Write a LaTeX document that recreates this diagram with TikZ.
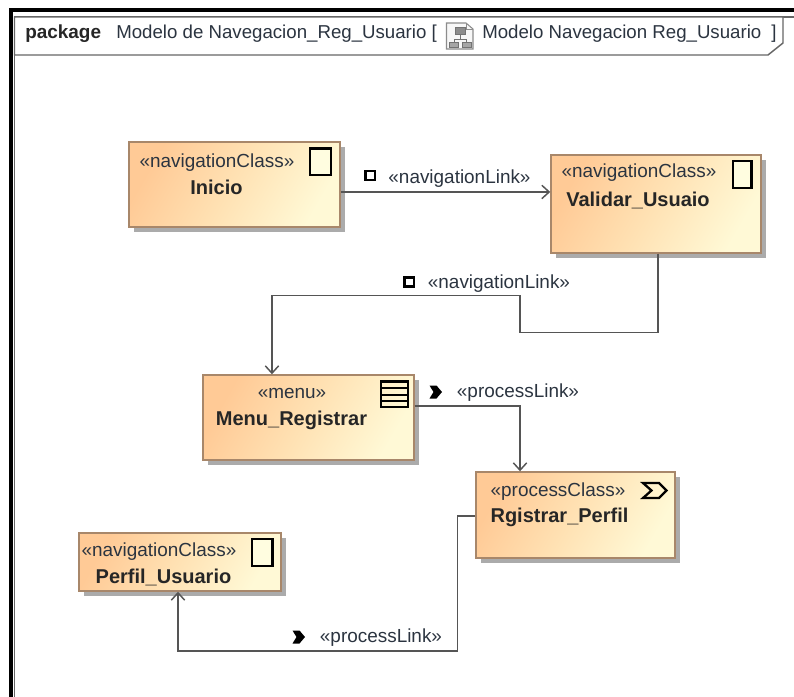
\documentclass[tikz,border=0pt]{standalone}
\usepackage{fontspec}
\setmainfont{Liberation Sans}
\usetikzlibrary{shadows,arrows.meta,calc}
\definecolor{boxedge}{HTML}{A8876A}
\definecolor{txt}{HTML}{2B3440}
\definecolor{wire}{HTML}{555555}
\definecolor{boxa}{HTML}{FFCA96}
\definecolor{boxb}{HTML}{FFF9D6}
\definecolor{boxm}{HTML}{FFE2B4}
\tikzset{
  x=0.75pt,y=-0.75pt,
  umlbox/.style={rectangle,draw=boxedge,line width=1.1pt,top color=boxa,bottom color=boxb,middle color=boxm,shading angle=60,inner sep=0pt,drop shadow={shadow xshift=3.75pt,shadow yshift=-3.75pt,fill=black!33,opacity=1}},
  stereo/.style={font=\fontsize{14.2}{16}\selectfont,text=txt,inner sep=0pt},
  nm/.style={font=\fontsize{15}{16}\selectfont\bfseries,text=black!85,inner sep=0pt},
  lbl/.style={font=\fontsize{14.2}{16}\selectfont,text=txt,inner sep=0pt},
  link/.style={draw=wire,line width=1.1pt,-{Straight Barb[length=5.5pt,width=10pt]}},
  glyph/.style={draw=black,line width=1.7pt,fill=yellow!12!white},
  mark box/.style={draw=black,line width=1.8pt,fill=white},
  chev/.style={fill=black,draw=none},
  frameedge/.style={draw=black!60,line width=1.1pt},
  ttl/.style={font=\fontsize{14}{16}\selectfont,text=txt,inner sep=0pt,anchor=west},
}
\begin{document}
\begin{tikzpicture}
\useasboundingbox (0,0) rectangle (794,697);
% frame
\draw[line width=3pt,black] (11,697) -- (11,9.5) -- (794,9.5);
\draw[frameedge] (14.5,697) -- (14.5,17) -- (794,17);
\draw[frameedge,fill=white] (14.5,17) -- (783,17) -- (783,43) -- (768,55) -- (14.5,55) -- cycle;
\node[ttl,font=\fontsize{14.2}{16}\selectfont\bfseries,text=black!85] (kw) at (25,34) {package};
\node[ttl] (t1) at (116,34) {Modelo de Navegacion\_Reg\_Usuario [};
\node[ttl] (t2) at (482,34) {Modelo Navegacion Reg\_Usuario};
\node[ttl] (t3) at (771,34) {]};
% diagram icon
\draw[draw=black!45,line width=.8pt,fill=black!3] (446.5,23) -- (466,23) -- (473,29) -- (473,49) -- (446.5,49) -- cycle;
\draw[draw=black!45,line width=.6pt] (466,23) -- (466,29) -- (473,29);
\draw[draw=black!55,fill=black!45,line width=.5pt] (455,27) rectangle (465,34);
\draw[draw=black!55,line width=.6pt] (460,34) -- (460,39) (454,39) -- (466,39) (454,39) -- (454,42) (466,39) -- (466,42);
\draw[draw=black!55,fill=black!35,line width=.5pt] (449,42) rectangle (458,47);
\draw[draw=black!55,fill=black!35,line width=.5pt] (462,42) rectangle (471,47);
% boxes
\node[umlbox,minimum width=158.25pt,minimum height=63.75pt] (inicio) at (234.5,184.5) {};
\node[umlbox,minimum width=157.5pt,minimum height=73.5pt] (validar) at (656,204) {};
\node[umlbox,minimum width=158.25pt,minimum height=63.75pt] (menu) at (308.5,417.5) {};
\node[umlbox,minimum width=149.25pt,minimum height=64.5pt] (rperfil) at (575.5,515) {};
\node[umlbox,minimum width=151.5pt,minimum height=43.5pt] (perfil) at (180,562) {};
% box texts
\node[stereo] (s1) at (217,163) {«navigationClass»};
\node[nm] (n1) at (216.5,187) {Inicio};
\node[stereo] (s2) at (639,173) {«navigationClass»};
\node[nm] (n2) at (638,200) {Validar\_Usuaio};
\node[stereo] (s3) at (292,393) {«menu»};
\node[nm] (n3) at (291.5,420) {Menu\_Registrar};
\node[stereo] (s4) at (558,492) {«processClass»};
\node[nm] (n4) at (559.5,517) {Rgistrar\_Perfil};
\node[stereo] (s5) at (159,552) {«navigationClass»};
\node[nm] (n5) at (163.5,577) {Perfil\_Usuario};
% glyphs
\draw[glyph] (310,148.5) rectangle (331,175);
\draw[glyph] (733,161) rectangle (751.5,188);
\draw[glyph] (252,539) rectangle (272.5,566);
\draw[glyph,fill=none,line width=2pt] (381,381.5) rectangle (408,407);
\draw[draw=black,line width=1.5pt] (381,388) -- (408,388) (381,394.5) -- (408,394.5) (381,401) -- (408,401);
\draw[draw=black,line width=1.7pt,line join=miter] (643,483) -- (659,483) -- (666.5,490.5) -- (659,498) -- (643,498) -- (651.5,490.5) -- cycle;
% links
\draw[link] ([yshift=-5.6pt]inicio.east) coordinate (a1) -- (a1 -| validar.west);
\draw[link] ([xshift=1.5pt]validar.south) -- ++(0,79) -- ++(-138,0) -- ++(0,-37) -| ([xshift=-27.4pt]menu.north);
\draw[link] ([yshift=8.6pt]menu.east) -| ([xshift=-41.6pt]rperfil.north);
\draw[link] ([yshift=-.75pt]rperfil.west) -- ++(-18,0) -- ++(0,135) -| ([xshift=-1.5pt]perfil.south);
% link labels
\draw[mark box] (365.5,171) rectangle (375,180);
\node[lbl] (l1) at (459.5,179) {«navigationLink»};
\draw[mark box] (404.5,277.5) rectangle (414,286.5);
\node[lbl] (l2) at (499,284) {«navigationLink»};
\fill[chev] (429.5,385.5) -- (436.5,385.5) -- (442,392) -- (436.5,398.5) -- (429.5,398.5) -- (433.5,392) -- cycle;
\node[lbl] (l3) at (518,393) {«processLink»};
\fill[chev] (292.5,630.5) -- (299.5,630.5) -- (305,637) -- (299.5,643.5) -- (292.5,643.5) -- (296.5,637) -- cycle;
\node[lbl] (l4) at (381,638) {«processLink»};
\end{tikzpicture}
\end{document}
